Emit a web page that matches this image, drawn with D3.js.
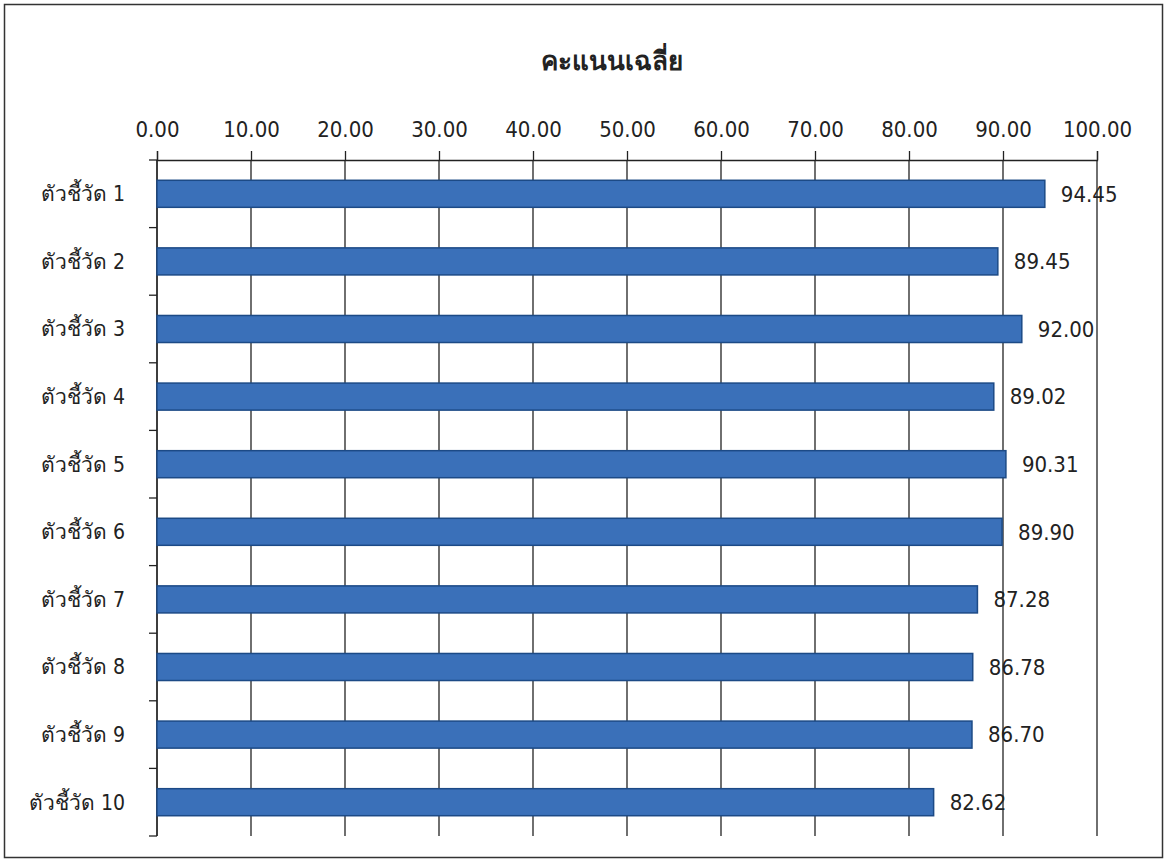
<!DOCTYPE html>
<html><head><meta charset="utf-8">
<script src="https://cdn.jsdelivr.net/npm/d3@7"></script>
<style>body{margin:0;background:#fff}</style>
</head><body>
<svg id="chart" width="1165" height="862"></svg>
<script>
const categories = ["ตัวชี้วัด 1","ตัวชี้วัด 2","ตัวชี้วัด 3","ตัวชี้วัด 4","ตัวชี้วัด 5","ตัวชี้วัด 6","ตัวชี้วัด 7","ตัวชี้วัด 8","ตัวชี้วัด 9","ตัวชี้วัด 10"];
const values = [94.45, 89.45, 92.00, 89.02, 90.31, 89.90, 87.28, 86.78, 86.70, 82.62];
const tickValues = [0,10,20,30,40,50,60,70,80,90,100];
const title = "คะแนนเฉลี่ย";

(function(){
const font = "Tahoma, 'DejaVu Sans Condensed', 'DejaVu Sans', sans-serif";
const svg = d3.select("#chart");
svg.append("rect").attr("x",4.5).attr("y",4.5).attr("width",1158).attr("height",853)
  .attr("fill","#fff").attr("stroke","#333").attr("stroke-width",1.5);

const mLeft = 157, mRight = 1097, mTop = 160, mBottom = 836;
const x = d3.scaleLinear().domain([0,100]).range([mLeft,mRight]);
const y = d3.scaleBand().domain(categories).range([mTop,mBottom]).paddingInner(0.6).paddingOuter(0.3);

// gridlines
svg.append("g").selectAll("line").data(tickValues).join("line")
  .attr("x1",d=>x(d)).attr("x2",d=>x(d)).attr("y1",mTop).attr("y2",mBottom)
  .attr("stroke","#222").attr("stroke-width",1.3);

// top axis
const xAxis = d3.axisTop(x).tickValues(tickValues).tickFormat(d3.format(".2f")).tickSize(9).tickPadding(14);
const gx = svg.append("g").attr("transform",`translate(0,${mTop})`).call(xAxis);
gx.select(".domain").attr("stroke","#222").attr("stroke-width",1.3);
gx.selectAll(".tick line").attr("stroke","#222").attr("stroke-width",1.3);
gx.selectAll("text").attr("font-family",font).attr("font-size",22).attr("fill","#222");

// left axis with ticks at band boundaries
const boundaries = d3.range(categories.length+1).map(i => mTop + i*(mBottom-mTop)/categories.length);
svg.append("line").attr("x1",mLeft).attr("x2",mLeft).attr("y1",mTop).attr("y2",mBottom)
  .attr("stroke","#222").attr("stroke-width",1.3);
svg.append("g").selectAll("line").data(boundaries).join("line")
  .attr("x1",mLeft-8).attr("x2",mLeft).attr("y1",d=>d).attr("y2",d=>d)
  .attr("stroke","#222").attr("stroke-width",1.3);

// category labels
svg.append("g").selectAll("text").data(categories).join("text")
  .attr("x",mLeft-32).attr("y",d=>y(d)+y.bandwidth()/2)
  .attr("dy","0.35em").attr("text-anchor","end")
  .attr("font-family",font).attr("font-size",21).attr("fill","#222").text(d=>d);

// bars
svg.append("g").selectAll("rect").data(values).join("rect")
  .attr("x",x(0)).attr("y",(d,i)=>y(categories[i]))
  .attr("width",d=>x(d)-x(0)).attr("height",y.bandwidth())
  .attr("fill","#3a70b9").attr("stroke","#1c4a86").attr("stroke-width",1.5);

// value labels
svg.append("g").selectAll("text").data(values).join("text")
  .attr("x",d=>x(d)+16).attr("y",(d,i)=>y(categories[i])+y.bandwidth()/2)
  .attr("dy","0.35em").attr("font-family",font).attr("font-size",22).attr("fill","#222")
  .text(d=>d3.format(".2f")(d));

// title
svg.append("text").attr("x",612).attr("y",70).attr("text-anchor","middle")
  .attr("font-family",font).attr("font-size",26).attr("font-weight","bold").attr("fill","#222").text(title);
})();
</script>
</body></html>
